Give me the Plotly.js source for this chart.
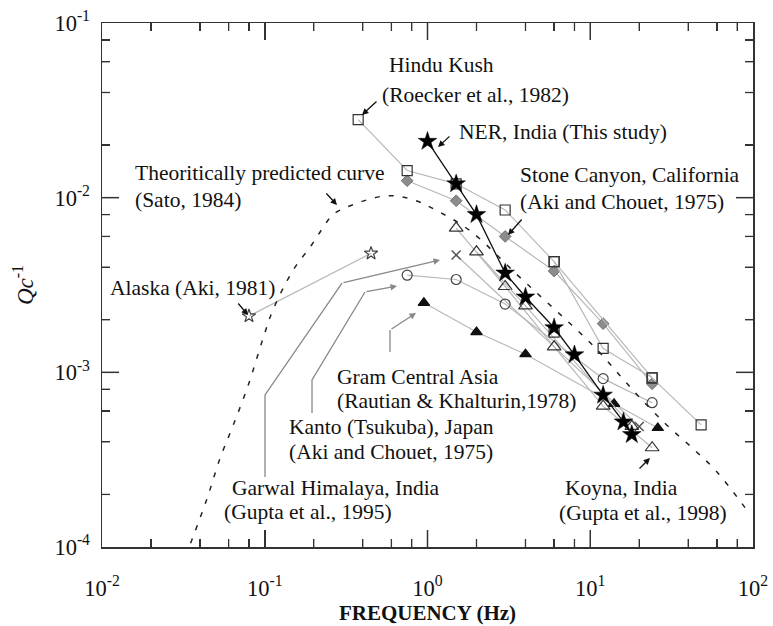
<!DOCTYPE html>
<html><head><meta charset="utf-8">
<script src="https://cdn.plot.ly/plotly-3.0.1.min.js"></script>
<style>html,body{margin:0;padding:0;background:#fff}</style>
</head><body><div id="chart" style="width:773px;height:626px"></div>
<script>
// ---------- data ----------
const nerFreq = [1, 1.5, 2, 3, 4, 6, 8, 12, 16, 18];
const nerQ    = [0.021, 0.012, 0.008, 0.0037, 0.0027, 0.0018, 0.00126, 0.00074, 0.00052, 0.00044];

const stoneFreq = [0.75, 1.5, 3, 6, 12, 24];
const stoneQ    = [0.0125, 0.0096, 0.006, 0.0038, 0.0019, 0.00086];

const hinduFreqA = [0.375, 0.75, 1.5, 3, 6, 12, 24];
const hinduQA    = [0.028, 0.0143, 0.012, 0.0085, 0.0043, 0.00137, 0.00093];
const hinduFreqB = [6, 24, 48];
const hinduQB    = [0.0043, 0.00093, 0.0005];
const hinduFreqC = [6];
const hinduQC    = [0.0017];

const koynaFreqA = [1.5, 3, 6, 12, 24];
const koynaQA    = [0.0067, 0.0031, 0.0014, 0.00064, 0.00037];
const koynaFreqB = [2, 4, 18];
const koynaQB    = [0.0049, 0.0024, 0.00049];

const kantoFreq = [0.75, 1.5, 3, 12, 24];
const kantoQ    = [0.0036, 0.0034, 0.00246, 0.00092, 0.00067];

const gramFreq = [0.95, 2, 4, 14, 26];
const gramQ    = [0.0025, 0.0017, 0.00127, 0.00066, 0.00048];

const garwalFreq = [1.5, 20];
const garwalQ    = [0.0047, 0.00049];

const alaskaFreq = [0.08, 0.45];
const alaskaQ    = [0.0021, 0.0048];

const satoFreq = [0.035, 0.044, 0.053, 0.064, 0.079, 0.098, 0.112, 0.149, 0.195, 0.228, 0.263, 0.349, 0.564, 0.815, 1.14, 1.82, 3.6, 5.27, 7.72, 11.0, 15.2, 20.2, 29.6, 42.8, 60.1, 89.3];
const satoQ    = [0.000105, 0.000187, 0.00032, 0.000498, 0.00084, 0.00158, 0.00226, 0.00383, 0.00539, 0.00674, 0.0080, 0.00912, 0.01026, 0.00974, 0.00843, 0.00648, 0.00358, 0.00258, 0.00186, 0.00135, 0.00096, 0.000715, 0.000498, 0.000366, 0.000269, 0.000168];

const xTickVals = [0.01, 0.1, 1, 10, 100];
const xTickText = ['10<sup>-2</sup>', '10<sup>-1</sup>', '10<sup>0</sup>', '10<sup>1</sup>', '10<sup>2</sup>'];
const yTickVals = [0.0001, 0.001, 0.01, 0.1];
const yTickText = ['10<sup>-4</sup>', '10<sup>-3</sup>', '10<sup>-2</sup>', '10<sup>-1</sup>'];
const xMinor = [0.02,0.04,0.06,0.08,0.2,0.4,0.6,0.8,2,4,6,8,20,40,60,80];
const yMinor = [0.0002,0.0004,0.0006,0.0008,0.002,0.004,0.006,0.008,0.02,0.04,0.06,0.08];

// ---------- styles ----------
const GREY = '#b8b8b8';
const L = 102, T = 23, W = 651, H = 524;
const X_RANGE = [-2, 2], Y_RANGE = [-4, -1];
const px = v => (v - L) / W;
const py = v => (T + H - v) / H;
const SERIF = 'Liberation Serif, Times New Roman, serif';
const AXC = '#333';

function series(x, y, symbol, size, mcolor, opts) {
  opts = opts || {};
  return {
    x: x, y: y, type: 'scatter', mode: opts.mode || 'lines+markers',
    line: {color: opts.lcolor || GREY, width: opts.lwidth || 1.2},
    marker: {symbol: symbol, size: size, color: mcolor,
             line: {color: opts.olcolor || mcolor, width: opts.olwidth || 1.2}},
    showlegend: false, hoverinfo: 'skip'
  };
}

const traces = [
  series(alaskaFreq, alaskaQ, 'star-open', 10, '#444'),
  series(garwalFreq, garwalQ, 'x-thin-open', 9, '#555', {olwidth: 1.5}),
  series(kantoFreq, kantoQ, 'circle-open', 10, '#444'),
  series(gramFreq, gramQ, 'triangle-up', 10, '#111'),
  series(koynaFreqA, koynaQA, 'triangle-up-open', 12, '#333'),
  series(koynaFreqB, koynaQB, 'triangle-up-open', 12, '#333'),
  series(stoneFreq, stoneQ, 'diamond', 9, '#8c8c8c', {olcolor: '#707070', olwidth: 1}),
  series(hinduFreqA, hinduQA, 'square-open', 10, '#333'),
  series(hinduFreqB, hinduQB, 'square-open', 10, '#333'),
  series(hinduFreqC, hinduQC, 'square-open', 10, '#333', {mode: 'markers'}),
  series(nerFreq, nerQ, 'star', 14, '#000', {lcolor: '#111', lwidth: 1.3, olwidth: 0.5}),
  {x: satoFreq, y: satoQ, xaxis: 'x2', yaxis: 'y2', type: 'scatter', mode: 'lines',
   line: {color: '#222', width: 1.5, dash: '5px,9px', shape: 'spline', smoothing: 1},
   showlegend: false, hoverinfo: 'skip'}
];

// ---------- annotations ----------
const FONT = {family: SERIF, size: 21.5, color: '#111'};
const label = (text, left, cy) => ({xref: 'paper', yref: 'paper', x: px(left), y: py(cy),
    xanchor: 'left', yanchor: 'middle', text: text, showarrow: false, font: FONT});
const arrow = (hx, hy, ax, ay, color) => ({xref: 'paper', yref: 'paper', x: px(hx), y: py(hy), text: '',
    showarrow: true, axref: 'pixel', ayref: 'pixel', ax: ax, ay: ay, arrowhead: 2, arrowsize: 1,
    arrowwidth: 1.3, arrowcolor: color || '#111', standoff: 0});
const poly = (points, color) => ({type: 'path', xref: 'paper', yref: 'paper', layer: 'above',
    path: points.map((p, i) => (i ? 'L' : 'M') + px(p[0]).toFixed(4) + ',' + py(p[1]).toFixed(4)).join(' '),
    line: {color: color, width: 1.3}});

const annotations = [
  label('Hindu Kush', 387, 65),
  label('(Roecker et al., 1982)', 380, 95),
  label('NER, India (This study)', 457, 132),
  label('Theoritically predicted curve', 133, 173),
  label('(Sato, 1984)', 133, 200),
  label('Stone Canyon, California', 518, 175),
  label('(Aki and Chouet, 1975)', 518, 202),
  label('Alaska (Aki, 1981)', 108, 288),
  label('Gram Central Asia', 335, 377),
  label('(Rautian &amp; Khalturin,1978)', 335, 401),
  label('Kanto (Tsukuba), Japan', 287, 427),
  label('(Aki and Chouet, 1975)', 287, 452),
  label('Garwal Himalaya, India', 230, 488),
  label('(Gupta et al., 1995)', 222, 512),
  label('Koyna, India', 563, 488),
  label('(Gupta et al., 1998)', 557, 513),
  arrow(362, 115, 16, -15),
  arrow(438, 147, 13, -12),
  arrow(337, 205, -12, -13),
  arrow(508, 235, 15, -17),
  arrow(248, 315, -11, -13),
  arrow(650, 458, -12, 12),
  arrow(416, 313, -26, 17, '#888'),
  arrow(397, 286, -32, 6, '#888'),
  arrow(440, 260, -98, 23, '#888')
];

const shapes = [
  poly([[390, 352], [390, 330]], '#888'),
  poly([[312, 413], [312, 380], [365, 292]], '#888'),
  poly([[265, 477], [265, 395], [342, 283]], '#888')
];

// inward tick marks on all four sides (fraction of plot computed from the tick values)
const fracX = v => (Math.log10(v) - X_RANGE[0]) / (X_RANGE[1] - X_RANGE[0]);
const fracY = v => (Math.log10(v) - Y_RANGE[0]) / (Y_RANGE[1] - Y_RANGE[0]);
function xTicks(vals, len, width) {
  vals.filter(v => fracX(v) > 0.001 && fracX(v) < 0.999).forEach(v => {
    const f = fracX(v);
    shapes.push({type: 'line', xref: 'paper', yref: 'paper', ysizemode: 'pixel', yanchor: 0,
                 x0: f, x1: f, y0: 0, y1: len, layer: 'above', line: {color: AXC, width: width}});
    shapes.push({type: 'line', xref: 'paper', yref: 'paper', ysizemode: 'pixel', yanchor: 1,
                 x0: f, x1: f, y0: 0, y1: -len, layer: 'above', line: {color: AXC, width: width}});
  });
}
function yTicks(vals, len, width) {
  vals.filter(v => fracY(v) > 0.001 && fracY(v) < 0.999).forEach(v => {
    const f = fracY(v);
    shapes.push({type: 'line', xref: 'paper', yref: 'paper', xsizemode: 'pixel', xanchor: 0,
                 y0: f, y1: f, x0: 0, x1: len, layer: 'above', line: {color: AXC, width: width}});
    shapes.push({type: 'line', xref: 'paper', yref: 'paper', xsizemode: 'pixel', xanchor: 1,
                 y0: f, y1: f, x0: 0, x1: -len, layer: 'above', line: {color: AXC, width: width}});
  });
}
xTicks(xTickVals, 17, 1.5);
xTicks(xMinor, 8, 1.3);
yTicks(yTickVals, 17, 1.5);
yTicks(yMinor, 8, 1.3);

// ---------- axes ----------
const axisCommon = {
  type: 'log', showgrid: false, zeroline: false, showline: true, mirror: 'ticks',
  linecolor: AXC, linewidth: 1.5, ticks: 'inside', ticklen: 17, tickwidth: 1.5, tickcolor: AXC,
  tickmode: 'array', tickfont: {family: SERIF, size: 22.5, color: '#111'}
};
const minorCommon = {
  type: 'log', showgrid: false, zeroline: false, showline: true, mirror: 'ticks',
  linecolor: AXC, linewidth: 1.5, ticks: 'inside', ticklen: 8, tickwidth: 1.3, tickcolor: AXC,
  tickmode: 'array', showticklabels: false
};

const layout = {
  width: 773, height: 626, showlegend: false,
  margin: {l: L, r: 773 - L - W, t: T, b: 626 - T - H},
  paper_bgcolor: '#fff', plot_bgcolor: '#fff',
  xaxis: Object.assign({}, axisCommon, {
    range: X_RANGE, tickvals: xTickVals, ticktext: xTickText, ticklabelstandoff: 20,
    title: {text: '<b>FREQUENCY (Hz)</b>', standoff: 6, font: {family: SERIF, size: 21, color: '#111'}}
  }),
  yaxis: Object.assign({}, axisCommon, {
    range: Y_RANGE, tickvals: yTickVals, ticktext: yTickText, ticklabelstandoff: 6,
    title: {text: '<i>Qc</i><sup>-1</sup>', standoff: 14, font: {family: SERIF, size: 23, color: '#111'}}
  }),
  xaxis2: Object.assign({}, minorCommon, {overlaying: 'x', anchor: 'y2', side: 'bottom', range: X_RANGE, tickvals: xMinor}),
  yaxis2: Object.assign({}, minorCommon, {overlaying: 'y', anchor: 'x2', side: 'left', range: Y_RANGE, tickvals: yMinor}),
  annotations: annotations,
  shapes: shapes
};

Plotly.newPlot('chart', traces, layout, {displayModeBar: false, staticPlot: true});
</script>
</body></html>
